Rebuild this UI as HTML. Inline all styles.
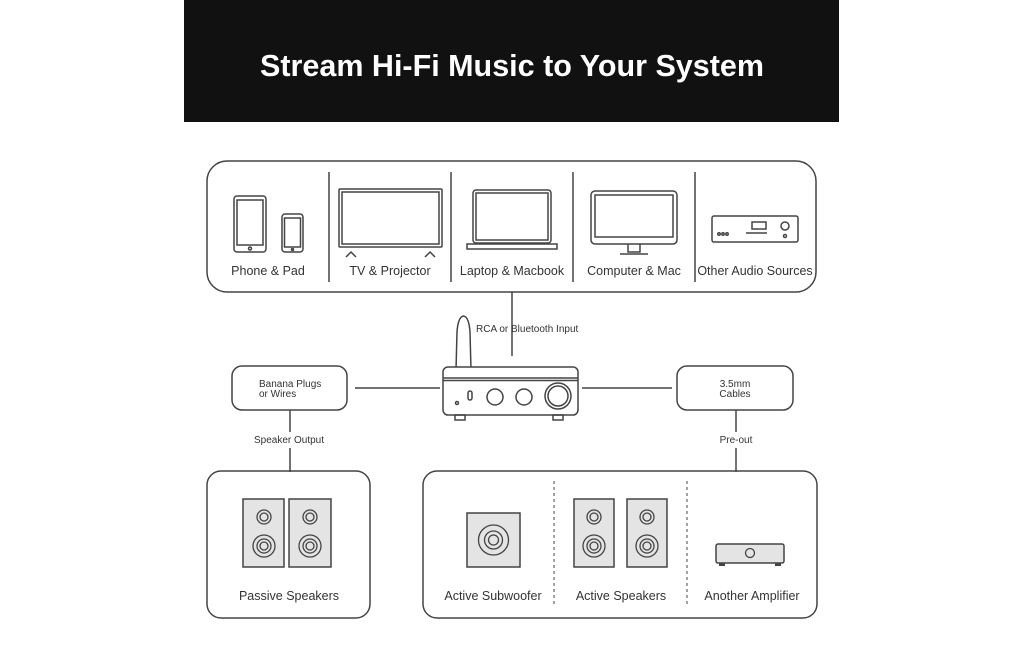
<!DOCTYPE html>
<html><head><meta charset="utf-8"><style>
html,body{margin:0;padding:0;background:#fff;width:1024px;height:655px;overflow:hidden}
svg text{font-family:"Liberation Sans",sans-serif;fill:#333}
</style></head><body>
<svg width="1024" height="655" viewBox="0 0 1024 655" xmlns="http://www.w3.org/2000/svg">
<rect x="184" y="0" width="655" height="122" fill="#111"/>
<text x="512" y="76" text-anchor="middle" style="fill:#fff;font-weight:bold;font-size:30.5px">Stream Hi-Fi Music to Your System</text>
<g fill="none" stroke="#444" stroke-width="1.5">
<rect x="207" y="161" width="609" height="131" rx="20"/>
<line x1="329" y1="172" x2="329" y2="282"/><line x1="451" y1="172" x2="451" y2="282"/><line x1="573" y1="172" x2="573" y2="282"/><line x1="695" y1="172" x2="695" y2="282"/>
<rect x="234" y="196" width="32" height="56" rx="3"/><rect x="237" y="200" width="26" height="45"/><circle cx="250" cy="248.5" r="1.5"/>
<rect x="282" y="214" width="21" height="38" rx="3"/><rect x="284.5" y="218" width="16" height="29"/><circle cx="292.5" cy="249.5" r="1"/>
<rect x="339" y="189" width="103" height="58" rx="1"/><rect x="342" y="192" width="97" height="52"/>
<path d="M346 257 L351 252 L356 257 M425 257 L430 252 L435 257"/>
<rect x="473" y="190" width="78" height="53" rx="3"/><rect x="476" y="193" width="72" height="47"/>
<path d="M467 244 H557 V249 H467 Z"/>
<rect x="591" y="191" width="86" height="53" rx="4"/><rect x="595" y="195" width="78" height="42"/>
<path d="M628 244 V252 H640 V244 M620 254 H648"/>
<rect x="712" y="216" width="86" height="26" rx="2"/><rect x="752" y="222" width="14" height="7"/><line x1="746" y1="233" x2="767" y2="233"/>
<circle cx="785" cy="226" r="4"/><circle cx="785" cy="236" r="1.5"/>
<circle cx="719" cy="234" r="1.2"/><circle cx="723" cy="234" r="1.2"/><circle cx="727" cy="234" r="1.2"/>
<line x1="512" y1="292" x2="512" y2="356"/>
<line x1="355" y1="388" x2="440" y2="388"/><line x1="582" y1="388" x2="672" y2="388"/>
<line x1="290" y1="410" x2="290" y2="472"/><line x1="736" y1="410" x2="736" y2="472"/>
<rect x="232" y="366" width="115" height="44" rx="10"/>
<rect x="677" y="366" width="116" height="44" rx="10"/>
<path d="M456 370 L457 332 Q458 317 463.5 316 Q469 317 470 332 L471 370" fill="#fff"/>
<rect x="443" y="367" width="135" height="48" rx="5" fill="#fff"/>
<line x1="443" y1="378" x2="578" y2="378"/><line x1="443" y1="380.5" x2="578" y2="380.5"/>
<rect x="455" y="415" width="10" height="5"/><rect x="553" y="415" width="10" height="5"/>
<circle cx="495" cy="397" r="8"/><circle cx="524" cy="397" r="8"/><circle cx="558" cy="396" r="13"/><circle cx="558" cy="396" r="10"/>
<circle cx="457" cy="403" r="1.5"/><rect x="468" y="391" width="4" height="9" rx="2"/>
<rect x="207" y="471" width="163" height="147" rx="14"/>
<rect x="423" y="471" width="394" height="147" rx="14"/>
</g>
<g stroke="#444" stroke-width="1" stroke-dasharray="3,3"><line x1="554" y1="481" x2="554" y2="607"/><line x1="687" y1="481" x2="687" y2="607"/></g>
<g fill="#e4e4e4" stroke="#444" stroke-width="1.5">
<rect x="243" y="499" width="41" height="68"/><rect x="289" y="499" width="42" height="68"/>
<rect x="467" y="513" width="53" height="54"/>
<rect x="574" y="499" width="40" height="68"/><rect x="627" y="499" width="40" height="68"/>
<rect x="716" y="544" width="68" height="19" rx="2"/>
</g>
<g fill="none" stroke="#444" stroke-width="1.3">
<circle cx="264" cy="517" r="7"/><circle cx="264" cy="517" r="4"/><circle cx="264" cy="546" r="11"/><circle cx="264" cy="546" r="7"/><circle cx="264" cy="546" r="4"/>
<circle cx="310" cy="517" r="7"/><circle cx="310" cy="517" r="4"/><circle cx="310" cy="546" r="11"/><circle cx="310" cy="546" r="7"/><circle cx="310" cy="546" r="4"/>
<circle cx="594" cy="517" r="7"/><circle cx="594" cy="517" r="4"/><circle cx="594" cy="546" r="11"/><circle cx="594" cy="546" r="7"/><circle cx="594" cy="546" r="4"/>
<circle cx="647" cy="517" r="7"/><circle cx="647" cy="517" r="4"/><circle cx="647" cy="546" r="11"/><circle cx="647" cy="546" r="7"/><circle cx="647" cy="546" r="4"/>
<circle cx="493.5" cy="540" r="15"/><circle cx="493.5" cy="540" r="9"/><circle cx="493.5" cy="540" r="5"/>
<circle cx="750" cy="553" r="4.5"/>
</g>
<g fill="#444"><rect x="719" y="563" width="6" height="3"/><rect x="775" y="563" width="6" height="3"/></g>
<rect x="250" y="432" width="80" height="16" fill="#fff"/>
<rect x="716" y="432" width="40" height="16" fill="#fff"/>
<g font-size="12.5" text-anchor="middle">
<text x="268" y="275">Phone &amp; Pad</text><text x="390" y="275">TV &amp; Projector</text><text x="512" y="275">Laptop &amp; Macbook</text><text x="634" y="275">Computer &amp; Mac</text><text x="755" y="275">Other Audio Sources</text>
<text x="289" y="600">Passive Speakers</text><text x="493" y="600">Active Subwoofer</text><text x="621" y="600">Active Speakers</text><text x="752" y="600">Another Amplifier</text>
</g>
<g font-size="10">
<text x="476" y="332">RCA or Bluetooth Input</text>
<text x="259" y="387">Banana Plugs</text><text x="259" y="397">or Wires</text>
<text x="735" y="387" text-anchor="middle">3.5mm</text><text x="735" y="397" text-anchor="middle">Cables</text>
<text x="289" y="443" text-anchor="middle">Speaker Output</text>
<text x="736" y="443" text-anchor="middle">Pre-out</text>
</g>
</svg>
</body></html>
